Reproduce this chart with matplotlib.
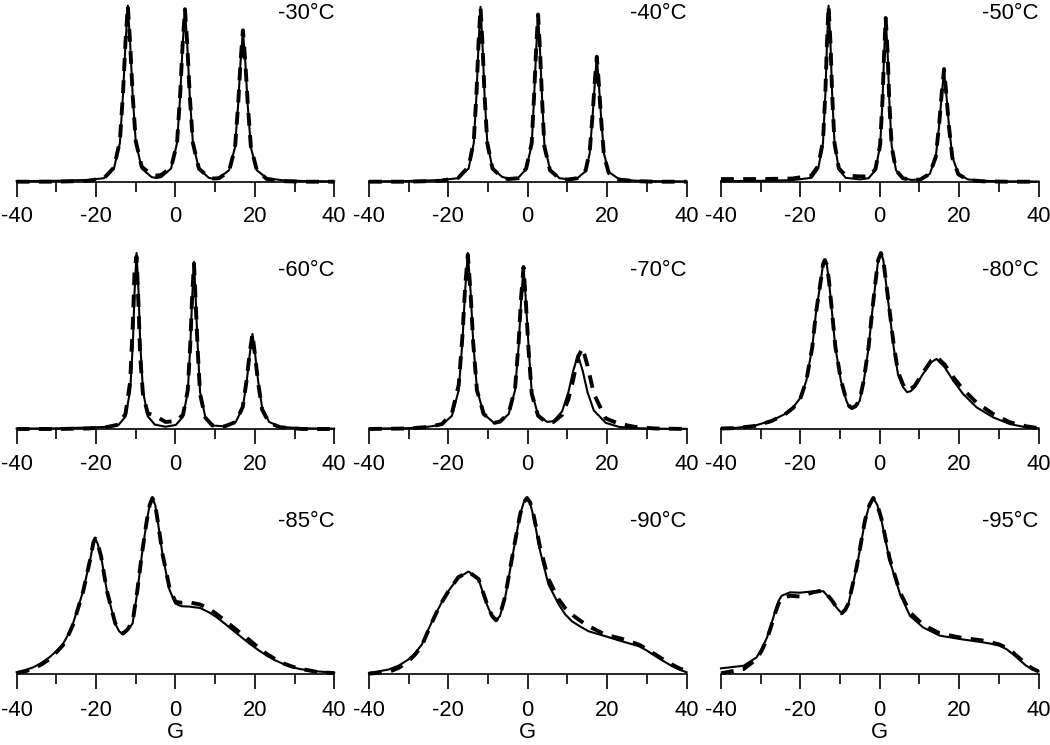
import matplotlib
matplotlib.use('Agg')
import matplotlib.pyplot as plt

plt.rcParams['font.family'] = ['Liberation Sans', 'DejaVu Sans']
plt.rcParams['axes.unicode_minus'] = False

# field (G) and intensity (% of tallest peak)
g_30 = [-40, -30, -22, -18, -15.5, -14, -13.2, -12.6, -12, -11.4, -10.8, -10, -8.5, -6, -4.8, -3.6, -1.1, 0.4, 1.2, 1.8, 2.4,
        3.0, 3.6, 4.4, 5.9, 8.4, 9.7, 11, 13.5, 15, 15.8, 16.4, 17, 17.6, 18.2, 19, 20.5, 23, 27, 32, 40]
solid_30 = [0.3, 0.5, 1.0, 2.0, 7.5, 22, 50, 78, 100, 78, 50, 22.5, 7.5, 2.6, 2.1, 2.6, 7.5, 22, 49, 77, 98,
            77, 49, 22, 7.3, 2.2, 1.6, 2.2, 6.5, 19.5, 44, 68, 86, 68, 44, 19.5, 6.5, 2.0, 0.8, 0.4, 0.2]
dashed_30 = [0, 0, 0.5, 2.0, 8, 23, 51, 79, 100, 78, 50, 23, 8.5, 3.9, 3.5, 3.8, 8, 22, 50, 78, 98,
             77, 49, 22, 7.5, 2.4, 1.8, 2.0, 6, 19, 44, 68, 86, 68, 45, 20, 6.5, 1.5, 0.3, 0, 0]

g_40 = [-40, -30, -22, -17.5, -14.9, -13.6, -12.9, -12.4, -11.9, -11.4, -10.9, -10.2, -8.9, -6.5, -5, -2.4, -0.4, 1.0, 1.6, 2.1, 2.6,
        3.1, 3.6, 4.2, 5.6, 8, 10, 12.5, 14.6, 15.6, 16.3, 16.9, 17.4, 17.9, 18.5, 19.2, 20.4, 23, 27, 32, 40]
solid_40 = [0.2, 0.4, 0.9, 2.0, 7.5, 22, 50, 78, 99.4, 78, 50, 22.5, 7.5, 2.8, 1.8, 2.2, 7.2, 21, 48, 74, 95,
            74, 48, 21, 7, 2, 1.4, 2, 6, 16, 36, 56, 71.3, 56, 36, 16, 5.5, 1.5, 0.6, 0.3, 0.2]
dashed_40 = [0, 0, 0.5, 2.2, 8.5, 23, 51, 79, 99, 78, 50, 22, 7.5, 2.5, 1.5, 2.0, 7.5, 22, 49, 75, 95,
             74, 47, 20, 6.5, 1.8, 1.2, 2, 6.5, 17, 37, 57, 71, 56, 35, 15, 5, 1.2, 0.3, 0, 0]

g_50 = [-40, -30, -22, -17.2, -15.5, -14.3, -13.7, -13.3, -12.9, -12.4, -12.0, -11.4, -10.3, -8.6, -5, -2.8, -1.1, 0.1, 0.7, 1.1,
        1.5, 2.0, 2.4, 3.0, 4.1, 5.8, 8, 10.2, 12.6, 14.1, 14.95, 15.6, 16.2, 16.8, 17.45, 18.3, 19.8, 22.2, 26, 32, 40]
solid_50 = [0.3, 0.5, 0.9, 2.2, 7.5, 22, 50, 78, 100, 78, 50, 22, 7, 2.2, 1.3, 2.0, 6.6, 20.5, 46.5, 72.5,
            93, 72.5, 46.5, 20.5, 6.5, 2.0, 1.0, 1.3, 4.4, 13.9, 31.5, 49, 63, 49, 31.5, 14, 4.5, 1.3, 0.5, 0.2, 0.1]
dashed_50 = [1.5, 1.5, 1.8, 3.5, 9, 23, 51, 79, 100, 78, 50, 22, 7.5, 3.5, 3.0, 3.0, 7, 21, 47, 73,
             93, 72, 46, 20, 6.5, 2.0, 1.0, 1.2, 4.5, 14, 32, 50, 64, 49, 31, 13.5, 4.2, 1.0, 0.2, 0, 0]

g_60 = [-40, -30, -22, -17.5, -14.4, -12.6, -11.4, -10.7, -10.3, -9.8, -9.3, -8.9, -8.2, -7.0, -5.2, -2.5, 0.1, 1.9, 3.1, 3.75,
        4.2, 4.67, 5.1, 5.6, 6.2, 7.5, 9.3, 12.4, 15.2, 16.95, 17.95, 18.7, 19.4, 20.1, 20.85, 21.85, 23.6, 26.4, 32, 40]
solid_60 = [0.2, 0.4, 0.8, 1.2, 2.2, 7, 22, 50, 78, 100, 78, 50, 22, 7.3, 2.5, 1.3, 2.3, 7, 21, 47.5,
            74, 95, 74, 47.5, 21, 7, 2, 1.5, 4, 12, 27, 42, 54, 42, 27, 12, 4, 1.2, 0.4, 0.2]
dashed_60 = [0, 0, 0.3, 1.0, 2.5, 8.5, 27, 62, 90, 98, 70, 42, 20, 9, 7.5, 4.0, 4.5, 8, 22, 49,
             75, 94, 72, 45, 20, 6.5, 2, 1.5, 4, 12.5, 28, 43, 54, 41, 26, 11, 3.5, 1, 0, 0]

g_70 = [-40, -30, -25, -21.6, -19.1, -17.4, -16.45, -15.8, -15.1, -14.4, -13.75, -12.8, -11.1, -8.4, -7.0, -4.8, -3.2, -2.3, -1.7,
        -1.06, -0.45, 0.2, 1.0, 2.6, 4.9, 6.5, 8.65, 10.25, 11.45, 12.65, 13.85, 15.05, 16.65, 19.65, 23, 27, 32, 40]
solid_70 = [0.2, 0.5, 1.3, 2.5, 7.5, 22, 50, 78, 100, 78, 50, 22.5, 8.5, 3.3, 4, 8.5, 22, 47, 72,
            92.4, 72, 47, 21, 8, 4, 4.5, 10, 21, 33, 42, 33, 21, 10.5, 3.5, 1.2, 0.5, 0.2, 0.1]
dashed_70 = [0, 0.3, 1.2, 2.8, 9, 25, 53, 80, 99, 77, 49, 22, 8.5, 3.5, 4.2, 9, 23, 49, 74,
             92, 71, 45, 20, 7.5, 3.5, 4, 8, 17, 28, 41, 46, 36, 20, 6, 3, 1.2, 0.3, 0]

g_80 = [-40, -36.5, -31.5, -27.3, -23.9, -21.8, -19.9, -18.5, -17.0, -16.1, -14.85, -14.3, -13.85, -13.35, -12.8, -12.0,
        -11.2, -9.8, -8.4, -7.7, -7.0, -6.1, -5.05, -4.0, -2.8, -1.95, -1.0, -0.4, 0.3, 0.9, 1.5, 2.5, 3.5, 4.6, 5.9, 6.9,
        7.8, 8.8, 10.9, 13, 14.3, 16.4, 18.5, 21, 24.4, 28.6, 32.8, 37, 40]
solid_80 = [0.3, 0.6, 1.9, 4.7, 8.5, 12.3, 18, 27.5, 46.5, 65.5, 84.4, 93.5, 95.8, 93.5, 84.4, 65.5,
            46.5, 27.5, 16, 12.6, 11.4, 12.6, 16, 27.5, 46.5, 65.5, 84.4, 96, 100, 96, 84.4, 65.5, 46.5, 31, 23.7, 20.9,
            21.5, 23.7, 31.3, 38, 39.8, 35, 27.5, 19.9, 12.3, 6.6, 2.8, 0.9, 0.4]
dashed_80 = [0.3, 0.5, 1.7, 4.5, 8.3, 12, 18, 27.5, 46.5, 65.5, 84.4, 93.5, 96, 93.5, 84.4, 66,
             47, 28, 16.5, 13, 12, 13, 16.5, 28, 47, 66, 85, 96, 100, 96, 85, 67, 48, 32.5, 25, 22,
             22.8, 24.5, 32, 39, 41, 36.5, 29.5, 22.5, 15, 8.5, 3.8, 1.5, 0.5]

g_85 = [-40, -37.9, -35.8, -33.7, -31.7, -30, -28.3, -27, -25.8, -23.3, -21.3, -20.7, -20.2, -19.6, -18.75, -17.25, -15.2,
        -14.2, -13.2, -12.2, -10.8, -9.6, -8.5, -7.3, -6.5, -5.8, -5.1, -4.4, -3.2, -1.5, 0, 1.5, 3.5, 6.2, 8.5, 10.4,
        12.5, 14.6, 16.7, 18.8, 20.9, 23, 25.1, 27.2, 29.3, 31.4, 35.6, 40]
solid_85 = [1, 2.2, 3.8, 6.4, 9.6, 13, 17.2, 22.5, 28.7, 46.8, 67, 74.5, 76.9, 74, 67, 46.8, 28.7,
            24.3, 22.6, 24.5, 28.7, 46.8, 67, 86, 96, 100, 96, 86, 67, 47.8, 40, 38.5, 38.3, 37.5, 35, 32.2,
            28.5, 24.6, 20.8, 17, 13.6, 10.4, 7.8, 5.7, 4, 2.8, 1.5, 0.8]
dashed_85 = [0.5, 1.5, 3, 5.5, 8.5, 12.3, 16.5, 22, 28, 46.5, 67, 74.5, 77, 74, 67, 47, 29,
             24.5, 23, 25, 29.5, 47.5, 67.5, 86, 96, 100, 96, 86, 67.5, 49, 41, 40.5, 40.7, 39.5, 37, 34,
             30.3, 26.5, 22.7, 19, 15, 11.4, 8.5, 6, 4.3, 3, 1.2, 0.5]

g_90 = [-40, -35.1, -32.5, -30.1, -28.4, -26.7, -25, -23.3, -21.6, -20, -17.5, -14.9, -12.4, -10.3, -9.0, -8.0, -7.0,
        -5.7, -3.6, -1.9, -1.0, -0.2, 0.6, 1.5, 3.1, 5.2, 7.8, 9.4, 11.1, 13.2, 15.3, 19.5, 23.7, 28, 30.1, 32.2, 34.3,
        36.4, 38.2, 40]
solid_90 = [0.6, 2.5, 4.8, 8.2, 11.8, 16.7, 25.5, 33.8, 41, 47.1, 54.8, 58.2, 53.8, 39.5, 32.5, 30.4, 33,
            43.3, 70, 90.9, 97.5, 100, 97, 89, 70, 51, 39.5, 34, 30, 27, 24.3, 21.5, 18.6, 15.8, 13.2, 10.1, 7.2,
            4.4, 2.5, 1]
dashed_90 = [0.2, 1.1, 3.5, 7.2, 11, 16, 25, 33.5, 41, 47, 55, 58, 54, 40, 33, 30.5, 33.5,
             44, 70.5, 91, 97.5, 100, 97.5, 90, 72, 54, 42.4, 37.5, 33.8, 30.3, 27.2, 22.4, 20, 16.7, 14, 11, 8,
             5.3, 3.2, 1.9]

g_95 = [-40, -34.3, -31, -29.7, -28.4, -27.3, -26.3, -25.5, -24.7, -22.6, -20.1, -16.7, -14.2, -12.1, -10.8, -9.6, -8.7,
        -7.9, -5.8, -3.7, -2.6, -1.64, -0.6, 0.45, 2.5, 5.1, 7.6, 10.9, 15.1, 20.1, 26, 28, 30.2, 32, 33.5, 35.2, 36.9,
        38.5, 40]
solid_95 = [3.2, 4.7, 9.5, 14.5, 20.8, 28.5, 36, 41.5, 44.5, 46.4, 46.2, 47, 47, 41.7, 37.5, 34.5, 36,
            39.8, 60.6, 87.1, 96, 100, 96, 87.1, 64.4, 45.5, 33.1, 26.5, 21.8, 19.9, 18, 17.2, 16.1, 14, 11.4, 8, 4.7,
            2.6, 1.5]
dashed_95 = [0.4, 2.8, 8.5, 13.5, 20, 27.5, 35, 40, 43, 44.5, 44, 46.5, 47.5, 42, 37.5, 34.5, 36.5,
             40, 61, 87.5, 96, 100, 96, 88, 65.5, 46.5, 35, 28, 23.1, 20.8, 19, 18, 16.7, 14.8, 12.3, 9, 5.7,
             3, 1.5]

temps = ['-30°C', '-40°C', '-50°C', '-60°C', '-70°C', '-80°C', '-85°C', '-90°C', '-95°C']
fields = [g_30, g_40, g_50, g_60, g_70, g_80, g_85, g_90, g_95]
solids = [solid_30, solid_40, solid_50, solid_60, solid_70, solid_80, solid_85, solid_90, solid_95]
dasheds = [dashed_30, dashed_40, dashed_50, dashed_60, dashed_70, dashed_80, dashed_85, dashed_90, dashed_95]

W, H = 1050, 745
col_left = [16.7, 369, 721]      # px
row_base = [181.7, 429, 674]     # px, baseline of each row
label_y = [0.956, 0.903, 0.869]  # temperature label height, axes fraction
ax_w, ax_h = 317.5, 176

fig = plt.figure(figsize=(W / 100, H / 100), dpi=100)

for i in range(9):
    row, col = divmod(i, 3)
    ax = fig.add_axes([col_left[col] / W, (H - row_base[row]) / H, ax_w / W, ax_h / H])
    ax.patch.set_alpha(0)
    ax.plot(fields[i], solids[i], color='black', lw=1.5, clip_on=False, solid_joinstyle='round')
    ax.plot(fields[i], dasheds[i], color='black', lw=2.8, dashes=(3.3, 2.4), clip_on=False)
    ax.set_xlim(-40, 40)
    ax.set_ylim(0, 100)
    for side in ['left', 'right', 'top']:
        ax.spines[side].set_visible(False)
    ax.spines['bottom'].set_linewidth(1.2)
    ax.set_yticks([])
    ax.set_xticks([-40, -20, 0, 20, 40])
    ax.set_xticks([-30, -10, 10, 30], minor=True)
    ax.tick_params(which='major', length=10.8, width=1.2, labelsize=15.8, pad=7 if row < 2 else 8)
    ax.tick_params(which='minor', length=7.2, width=1.2)
    ax.text(1.0, label_y[row], temps[i], transform=ax.transAxes, ha='right', va='center', fontsize=15.8)
    if row == 2:
        ax.set_xlabel('G', fontsize=15.8, labelpad=1)

fig.savefig('out.png', dpi=100)
